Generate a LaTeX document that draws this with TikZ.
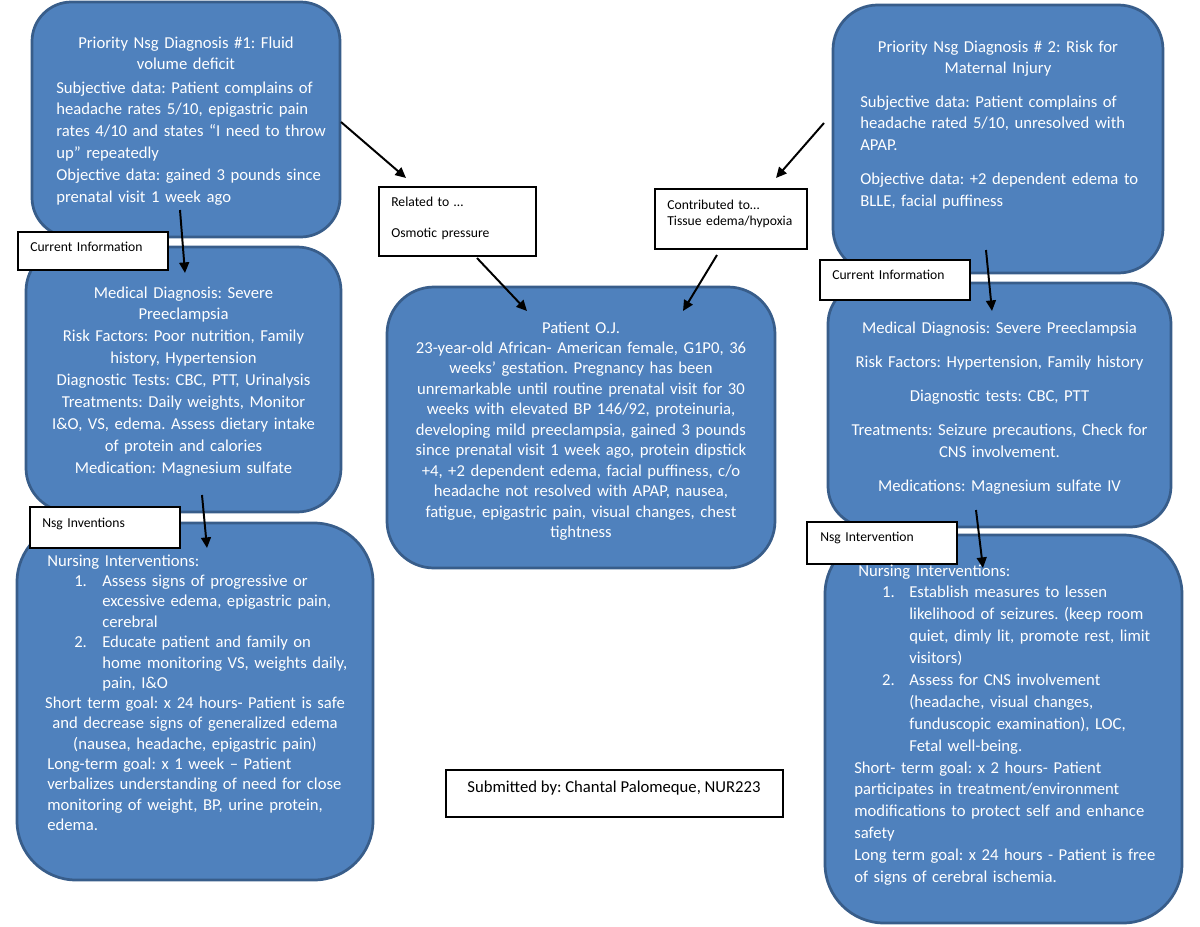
\documentclass[tikz,border=0pt]{standalone}
\usepackage{fontspec}
\setmainfont{Carlito}
\usetikzlibrary{fit,arrows.meta}
\definecolor{boxfill}{HTML}{4F81BD}
\definecolor{boxline}{HTML}{385D8A}
\begin{document}
\frenchspacing
\begin{tikzpicture}[x=0.66pt, y=-0.66pt,
  bluebox/.style={draw=boxline, fill=boxfill, line width=1.8pt, inner sep=0pt},
  labelbox/.style={draw=black, fill=white, line width=1pt, inner sep=0pt},
  btxt/.style={text=white, inner sep=0pt, font=\fontsize{11}{14.5}\selectfont, text width=270pt},
  ctxt/.style={btxt, anchor=base, align=center},
  lftxt/.style={btxt, anchor=base west, align=left},
  ltxt/.style={text=black, inner sep=0pt, font=\fontsize{9}{10.8}\selectfont, anchor=base west, align=left, text width=120pt},
  arr/.style={-{Triangle[length=7pt,width=6.5pt]}, line width=1.3pt, black}]

\useasboundingbox (0,0) rectangle (1200,927);

% blue boxes
\node[bluebox, rounded corners=26pt, fit={(32,2) (340,237)}] (tl) {};
\node[bluebox, rounded corners=29pt, fit={(26,247) (341,512)}] (ml) {};
\node[bluebox, rounded corners=39pt, fit={(17,523) (373,880)}] (bl) {};
\node[bluebox, rounded corners=31pt, fit={(387,287) (775,568)}] (pt) {};
\node[bluebox, rounded corners=29.5pt, fit={(833,5) (1163,273)}] (tr) {};
\node[bluebox, rounded corners=27pt, fit={(828,283) (1171,527)}] (mr) {};
\node[bluebox, rounded corners=39pt, fit={(825,535) (1182,923)}] (br) {};

% label boxes
\node[labelbox, fit={(18,232) (168,270)}] (lbcil) {};
\node[labelbox, fit={(30,507) (180,548)}] (lbnil) {};
\node[labelbox, fit={(379,187) (536,256)}] (lbrel) {};
\node[labelbox, fit={(655,189) (807,249)}] (lbcon) {};
\node[labelbox, fit={(820,260) (970,300)}] (lbcir) {};
\node[labelbox, fit={(807,522) (957,564)}] (lbnir) {};
\node[labelbox, fit={(446,770) (783,817)}] (lbsub) {};

% label texts
\node[ltxt] (tcil) at (30,251) {Current Information};
\node[ltxt] (tnil) at (42,527) {Nsg Inventions};
\node[ltxt, font=\fontsize{9}{20.5}\selectfont] (trel) at (391,206) {Related to …\\Osmotic pressure};
\node[ltxt, font=\fontsize{9}{10.8}\selectfont] (tcon) at (667,209) {Contributed to…\\Tissue edema/hypoxia};
\node[ltxt] (tcir) at (832,279) {Current Information};
\node[ltxt] (tnir) at (820,541) {Nsg Intervention};
\node[inner sep=0pt, anchor=base, font=\fontsize{11}{13}\selectfont] (tsub) at (614,792) {Submitted by: Chantal Palomeque, NUR223};

% top-left
\node[ctxt] (ttl1) at (186,48) {Priority Nsg Diagnosis \#1: Fluid\\volume deficit};
\node[lftxt] (ttl2) at (56,93) {Subjective data: Patient complains of\\
headache rates 5/10, epigastric pain\\
rates 4/10 and states “I need to throw\\
up” repeatedly\\
Objective data: gained 3 pounds since\\
prenatal visit 1 week ago};

% middle-left
\node[ctxt] (tml) at (183.5,298) {Medical Diagnosis: Severe\\
Preeclampsia\\
Risk Factors: Poor nutrition, Family\\
history, Hypertension\\
Diagnostic Tests: CBC, PTT, Urinalysis\\
Treatments: Daily weights, Monitor\\
I\&O, VS, edema. Assess dietary intake\\
of protein and calories\\
Medication: Magnesium sulfate};

% bottom-left
\node[lftxt, font=\fontsize{11}{13.5}\selectfont] (tbl1) at (47,566) {Nursing Interventions:\\
\hspace*{17.8pt}\makebox[18.5pt][l]{1.}Assess signs of progressive or\\
\hspace*{36.3pt}excessive edema, epigastric pain,\\
\hspace*{36.3pt}cerebral\\
\hspace*{17.8pt}\makebox[18.5pt][l]{2.}Educate patient and family on\\
\hspace*{36.3pt}home monitoring VS, weights daily,\\
\hspace*{36.3pt}pain, I\&O};
\node[ctxt, font=\fontsize{11}{13.5}\selectfont] (tbl2) at (195,708.5) {Short term goal: x 24 hours- Patient is safe\\
and decrease signs of generalized edema\\
(nausea, headache, epigastric pain)};
\node[lftxt, font=\fontsize{11}{13.5}\selectfont] (tbl3) at (47,769.5) {Long-term goal: x 1 week – Patient\\
verbalizes understanding of need for close\\
monitoring of weight, BP, urine protein,\\
edema.};

% center
\node[ctxt, font=\fontsize{11}{13.5}\selectfont] (tpt) at (581,333) {Patient O.J.\\
23-year-old African- American female, G1P0, 36\\
weeks’ gestation. Pregnancy has been\\
unremarkable until routine prenatal visit for 30\\
weeks with elevated BP 146/92, proteinuria,\\
developing mild preeclampsia, gained 3 pounds\\
since prenatal visit 1 week ago, protein dipstick\\
+4, +2 dependent edema, facial puffiness, c/o\\
headache not resolved with APAP, nausea,\\
fatigue, epigastric pain, visual changes, chest\\
tightness};

% top-right
\node[ctxt] (ttr1) at (998,52) {Priority Nsg Diagnosis \# 2: Risk for\\Maternal Injury};
\node[lftxt] (ttr2) at (860,107) {Subjective data: Patient complains of\\
headache rated 5/10, unresolved with\\
APAP.\\[7.5pt]
Objective data: +2 dependent edema to\\
BLLE, facial puffiness};

% middle-right
\node[ctxt] (tmr) at (999.5,333) {Medical Diagnosis: Severe Preeclampsia\\[8pt]
Risk Factors: Hypertension, Family history\\[8pt]
Diagnostic tests: CBC, PTT\\[8pt]
Treatments: Seizure precautions, Check for\\
CNS involvement.\\[8pt]
Medications: Magnesium sulfate IV};

% bottom-right
\node[lftxt] (tbr1) at (858,576) {Nursing Interventions:\\
\hspace*{15.8pt}\makebox[17.9pt][l]{1.}Establish measures to lessen\\
\hspace*{33.7pt}likelihood of seizures. (keep room\\
\hspace*{33.7pt}quiet, dimly lit, promote rest, limit\\
\hspace*{33.7pt}visitors)\\
\hspace*{15.8pt}\makebox[17.9pt][l]{2.}Assess for CNS involvement\\
\hspace*{33.7pt}(headache, visual changes,\\
\hspace*{33.7pt}funduscopic examination), LOC,\\
\hspace*{33.7pt}Fetal well-being.};
\node[lftxt] (tbr2) at (854,773) {Short- term goal: x 2 hours- Patient\\
participates in treatment/environment\\
modifications to protect self and enhance\\
safety\\
Long term goal: x 24 hours - Patient is free\\
of signs of cerebral ischemia.};

% arrow end points
\coordinate (a1s) at (341,122); \coordinate (a1e) at (406,178);
\coordinate (a2s) at (180,210); \coordinate (a2e) at (185,273);
\coordinate (a3s) at (202,495); \coordinate (a3e) at (207,548);
\coordinate (a4s) at (477,258); \coordinate (a4e) at (527,311);
\coordinate (a5s) at (717,255); \coordinate (a5e) at (683,311);
\coordinate (a6s) at (824,123); \coordinate (a6e) at (776,178);
\coordinate (a7s) at (986,250); \coordinate (a7e) at (992,311);
\coordinate (a8s) at (976,510); \coordinate (a8e) at (983,568);

\draw[arr] (a1s) -- (a1e);
\draw[arr] (a2s) -- (a2e);
\draw[arr] (a3s) -- (a3e);
\draw[arr] (a4s) -- (a4e);
\draw[arr] (a5s) -- (a5e);
\draw[arr] (a6s) -- (a6e);
\draw[arr] (a7s) -- (a7e);
\draw[arr] (a8s) -- (a8e);
\end{tikzpicture}
\end{document}
